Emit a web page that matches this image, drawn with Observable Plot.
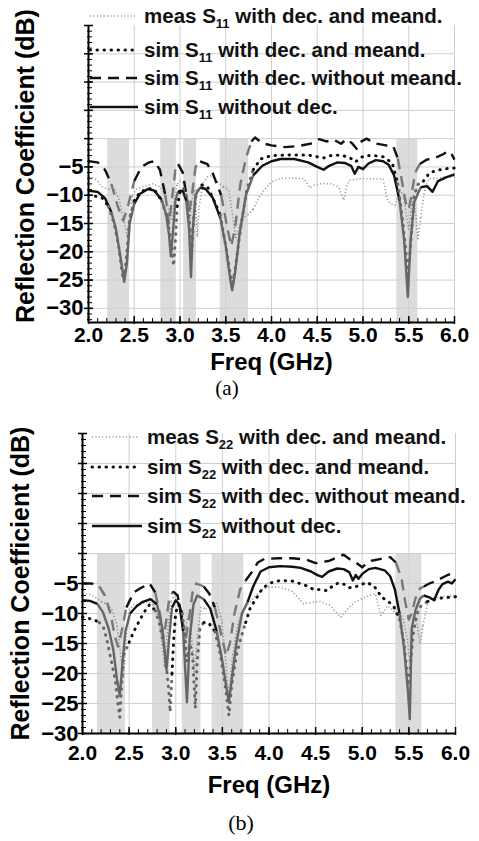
<!DOCTYPE html>
<html><head><meta charset="utf-8">
<script src="https://cdn.jsdelivr.net/npm/d3@7"></script>
<script src="https://cdn.jsdelivr.net/npm/@observablehq/plot@0.6"></script>
<style>
html,body{margin:0;padding:0;background:#fff;}
#root{position:relative;width:479px;height:841px;overflow:hidden;}
#root > svg{position:absolute;left:0;}
</style></head><body><div id="root"></div>
<script>
// ---------- DATA ----------
const xTickLabels = [2.0, 2.5, 3.0, 3.5, 4.0, 4.5, 5.0, 5.5, 6.0];
const yTickLabels = [-30, -25, -20, -15, -10, -5];

const bandsA = [[2.21, 2.45], [2.79, 2.96], [3.04, 3.18], [3.44, 3.75], [5.37, 5.60]];
const bandsB = [[2.16, 2.46], [2.75, 2.94], [3.07, 3.27], [3.39, 3.73], [5.36, 5.64]];

// (a) S11
const a_meas = [[2.00,-6.8],[2.08,-7.2],[2.15,-8.5],[2.22,-9.0],[2.28,-8.8],[2.33,-10.5],[2.38,-14],[2.42,-17],[2.45,-14],[2.48,-10],[2.53,-8.8],[2.60,-8.5],[2.70,-8.0],[2.78,-8.5],[2.84,-10],[2.88,-13],[2.91,-14.5],[2.94,-11],[2.97,-8],[3.00,-7.5],[3.05,-8],[3.08,-11],[3.11,-15],[3.13,-11],[3.16,-9],[3.18,-14],[3.19,-17.4],[3.21,-12],[3.25,-8],[3.30,-6.8],[3.35,-6.5],[3.40,-7.5],[3.47,-8.5],[3.53,-9],[3.57,-13],[3.61,-17.5],[3.64,-16],[3.68,-14],[3.74,-13.5],[3.80,-12.5],[3.86,-10.5],[3.92,-9],[4.00,-7.7],[4.10,-7.0],[4.25,-7.0],[4.36,-7.1],[4.42,-8.7],[4.47,-8.2],[4.56,-7.9],[4.65,-8.0],[4.73,-8.5],[4.79,-10.9],[4.82,-8.5],[4.85,-7.4],[4.95,-7.1],[5.10,-7.1],[5.22,-7.1],[5.26,-10.5],[5.30,-11.5],[5.35,-11.8],[5.40,-9],[5.44,-10],[5.47,-13],[5.50,-16],[5.52,-13],[5.55,-10],[5.58,-14],[5.60,-17.7],[5.63,-14],[5.67,-9.5],[5.72,-7.1],[5.80,-7.0],[5.90,-6.8],[6.00,-6.7]];
const a_decMeand = [[2.00,-10.0],[2.08,-10.2],[2.15,-10.5],[2.22,-12],[2.28,-15],[2.33,-19],[2.37,-24],[2.39,-25],[2.42,-20],[2.45,-14],[2.50,-11],[2.56,-9.5],[2.65,-8.8],[2.72,-9.0],[2.80,-11],[2.86,-14],[2.90,-18],[2.93,-22.5],[2.95,-18],[2.97,-12],[3.00,-9.5],[3.04,-8.8],[3.08,-10.5],[3.11,-16],[3.13,-20],[3.15,-14],[3.18,-9.5],[3.24,-8.2],[3.30,-8.5],[3.36,-10.5],[3.44,-13.5],[3.50,-19],[3.55,-24],[3.58,-25.5],[3.62,-21],[3.67,-15],[3.73,-9],[3.80,-5.5],[3.88,-3.6],[4.00,-3.0],[4.20,-2.9],[4.40,-2.9],[4.50,-3.2],[4.57,-3.4],[4.65,-3.0],[4.75,-2.9],[4.85,-3.3],[4.92,-4.1],[4.97,-3.4],[5.02,-3.0],[5.12,-3.0],[5.22,-3.2],[5.32,-4.3],[5.38,-8],[5.43,-14],[5.47,-20],[5.49,-24],[5.52,-19],[5.56,-10],[5.60,-8.1],[5.66,-7.5],[5.73,-6.0],[5.84,-5.5],[5.92,-5.3],[6.00,-5.2]];
const a_noMeand = [[2.00,-4.0],[2.10,-4.2],[2.18,-5.5],[2.25,-8],[2.32,-12],[2.38,-14.5],[2.43,-12],[2.50,-7.5],[2.58,-5],[2.66,-4.2],[2.72,-4.0],[2.78,-5.5],[2.84,-10],[2.88,-15],[2.91,-11],[2.95,-5.5],[2.98,-4.5],[3.03,-6],[3.07,-10],[3.10,-13],[3.13,-10],[3.17,-5],[3.22,-4.0],[3.30,-4.5],[3.36,-6.2],[3.45,-10],[3.52,-16],[3.56,-19],[3.60,-16],[3.66,-8],[3.72,-3.5],[3.78,-0.5],[3.82,0.2],[3.90,-0.8],[4.00,-1.2],[4.15,-1.5],[4.30,-1.3],[4.45,-0.8],[4.52,-0.1],[4.60,-0.5],[4.68,-0.2],[4.76,-0.9],[4.82,-0.1],[4.88,-0.8],[4.93,-1.8],[4.97,-0.6],[5.04,0.0],[5.12,-0.8],[5.25,-1.2],[5.33,-1.3],[5.38,-3.5],[5.42,-7],[5.47,-11.5],[5.50,-12.5],[5.53,-10],[5.57,-6],[5.62,-4.5],[5.70,-3.7],[5.80,-3.3],[5.87,-2.8],[5.93,-2.2],[5.97,-2.8],[6.00,-3.7]];
const a_noDec = [[2.00,-9.2],[2.10,-9.4],[2.18,-10.5],[2.25,-13],[2.30,-16],[2.35,-21],[2.39,-25.3],[2.42,-22],[2.45,-15],[2.50,-11.5],[2.56,-9.8],[2.65,-8.9],[2.72,-9.2],[2.80,-10.8],[2.85,-13.5],[2.88,-17],[2.90,-20.8],[2.92,-17],[2.95,-11],[2.98,-9.3],[3.03,-9.2],[3.07,-11],[3.10,-16],[3.12,-24.5],[3.14,-16],[3.17,-10],[3.22,-8.6],[3.28,-8.9],[3.36,-10.5],[3.44,-14],[3.50,-19],[3.55,-25],[3.57,-26.8],[3.60,-24],[3.65,-17],[3.72,-10],[3.80,-6.5],[3.90,-4.8],[4.00,-4.0],[4.10,-3.6],[4.25,-3.6],[4.40,-4.2],[4.50,-5.0],[4.57,-5.5],[4.63,-4.8],[4.72,-4.2],[4.80,-4.3],[4.87,-4.8],[4.91,-6.2],[4.95,-5.0],[5.00,-5.4],[5.06,-4.4],[5.14,-3.8],[5.22,-4.0],[5.28,-4.6],[5.34,-6.5],[5.40,-11],[5.45,-18],[5.49,-28],[5.52,-18],[5.56,-11.2],[5.63,-8.6],[5.70,-8.4],[5.76,-9.4],[5.82,-7.5],[5.90,-6.9],[6.00,-6.3]];

// (b) S22
const b_meas = [[2.00,-6.7],[2.06,-6.7],[2.13,-7.2],[2.20,-8],[2.27,-8.5],[2.32,-9.5],[2.37,-12],[2.41,-17],[2.44,-20.6],[2.47,-14],[2.50,-9.5],[2.55,-8.5],[2.62,-8.5],[2.70,-8],[2.76,-8.5],[2.82,-11],[2.86,-16],[2.88,-19],[2.91,-13],[2.95,-8],[2.98,-7.1],[3.02,-8],[3.06,-11],[3.09,-15],[3.12,-11],[3.15,-10],[3.18,-16],[3.20,-20],[3.23,-14],[3.27,-9],[3.32,-9.2],[3.38,-8.8],[3.44,-8.2],[3.49,-11],[3.53,-17],[3.57,-23.8],[3.61,-17],[3.66,-12],[3.72,-9.5],[3.77,-8.5],[3.85,-7.2],[3.93,-6.0],[4.00,-5.6],[4.10,-5.6],[4.24,-6.2],[4.31,-7.3],[4.37,-8.4],[4.45,-8.2],[4.55,-8.0],[4.65,-8.6],[4.72,-9.8],[4.77,-10.6],[4.83,-9.5],[4.92,-8.1],[5.00,-7.5],[5.08,-7.0],[5.14,-6.7],[5.17,-8.5],[5.20,-10.3],[5.24,-9.5],[5.27,-8.7],[5.32,-9.3],[5.36,-10],[5.40,-9.5],[5.44,-11],[5.48,-14],[5.51,-18],[5.53,-14],[5.56,-10],[5.59,-12],[5.62,-15],[5.65,-12],[5.70,-8.5],[5.73,-7.6],[5.82,-7.3],[5.90,-7.1],[6.00,-7.0]];
const b_decMeand = [[2.00,-10.6],[2.06,-10.8],[2.12,-11.0],[2.18,-11.5],[2.23,-12.5],[2.27,-15],[2.31,-18],[2.35,-21],[2.38,-25],[2.40,-27.3],[2.42,-22],[2.44,-17],[2.50,-14.8],[2.55,-13],[2.60,-11.5],[2.66,-9.8],[2.72,-8.5],[2.78,-9.5],[2.83,-12],[2.88,-16],[2.92,-22],[2.94,-26.4],[2.96,-20],[2.98,-14],[3.00,-9.8],[3.03,-8.5],[3.07,-10],[3.10,-14],[3.12,-18],[3.15,-15],[3.18,-17],[3.21,-25.8],[3.23,-18],[3.26,-12.5],[3.30,-11.5],[3.35,-11.5],[3.42,-13],[3.48,-17],[3.53,-22],[3.57,-27],[3.60,-22],[3.65,-17],[3.70,-14],[3.75,-11.5],[3.80,-9],[3.86,-7.6],[3.93,-5.8],[4.02,-4.9],[4.12,-4.5],[4.25,-4.6],[4.39,-5.3],[4.48,-6.0],[4.55,-6.0],[4.62,-6.2],[4.70,-5.2],[4.75,-4.9],[4.82,-5.2],[4.86,-5.7],[4.92,-5.6],[4.97,-5.3],[5.05,-4.8],[5.13,-5.5],[5.21,-7.3],[5.28,-8],[5.34,-8.9],[5.40,-11],[5.45,-15],[5.48,-20],[5.50,-22],[5.52,-18],[5.55,-13],[5.59,-10],[5.62,-8.9],[5.70,-8.0],[5.78,-7.6],[5.86,-7.4],[6.00,-7.2]];
const b_noMeand = [[2.00,-5.0],[2.10,-5.0],[2.18,-5.5],[2.24,-7],[2.30,-10],[2.35,-14],[2.38,-15.5],[2.42,-13],[2.47,-9],[2.55,-6.5],[2.62,-5.8],[2.72,-5.0],[2.78,-6.5],[2.83,-10],[2.87,-14],[2.90,-11],[2.93,-7.5],[2.97,-6.3],[3.02,-7],[3.07,-11],[3.11,-14],[3.15,-10],[3.18,-6.5],[3.22,-5.0],[3.30,-5.5],[3.36,-6.7],[3.42,-9],[3.48,-13],[3.54,-17],[3.58,-15],[3.63,-10],[3.69,-6],[3.75,-4.5],[3.82,-3.0],[3.88,-1.5],[3.95,-0.9],[4.10,-0.8],[4.25,-0.8],[4.40,-1.0],[4.50,-1.6],[4.58,-1.4],[4.65,-1.2],[4.72,-0.7],[4.80,-0.2],[4.87,-1.0],[4.93,-1.5],[5.00,-2.3],[5.05,-1.6],[5.10,-1.2],[5.20,-0.9],[5.30,-0.6],[5.36,-1.5],[5.42,-4],[5.46,-8],[5.50,-11],[5.53,-10],[5.57,-7.5],[5.62,-5.8],[5.66,-5.5],[5.72,-5.0],[5.80,-4.5],[5.90,-3.7],[6.00,-3.1]];
const b_noDec = [[2.00,-7.8],[2.08,-7.9],[2.16,-8.4],[2.22,-9.8],[2.28,-12.5],[2.33,-16],[2.37,-21],[2.40,-23.7],[2.43,-18],[2.46,-13],[2.51,-10],[2.58,-8.8],[2.64,-8.1],[2.73,-7.6],[2.80,-8.5],[2.85,-12],[2.88,-16],[2.90,-19.5],[2.93,-14],[2.96,-9],[3.00,-7.8],[3.04,-8.5],[3.08,-13],[3.12,-24.8],[3.15,-14],[3.19,-8.5],[3.23,-7.0],[3.30,-7.6],[3.37,-9.2],[3.44,-13],[3.50,-18],[3.55,-23],[3.57,-24.8],[3.60,-21],[3.65,-15],[3.71,-10],[3.77,-8.1],[3.83,-5.5],[3.91,-3.0],[4.00,-2.3],[4.12,-2.1],[4.25,-2.2],[4.34,-2.4],[4.45,-3.0],[4.52,-3.6],[4.57,-3.9],[4.64,-3.0],[4.73,-2.5],[4.80,-2.6],[4.86,-3.1],[4.90,-4.5],[4.93,-3.6],[4.96,-4.2],[5.00,-3.4],[5.07,-2.6],[5.14,-2.4],[5.24,-2.8],[5.30,-3.8],[5.35,-6],[5.40,-10],[5.45,-16],[5.49,-23],[5.51,-27.6],[5.53,-12.5],[5.57,-9.5],[5.62,-7.5],[5.66,-7.0],[5.72,-7.3],[5.77,-7.8],[5.82,-6.0],[5.86,-5.1],[5.92,-4.7],[5.96,-5.0],[6.00,-4.3]];

const legendKeys = ["meas", "decMeand", "noMeand", "noDec"];
const legendA = [["meas S","11"," with dec. and meand."],["sim S","11"," with dec. and meand."],["sim S","11"," with dec. without meand."],["sim S","11"," without dec."]];
const legendB = [["meas S","22"," with dec. and meand."],["sim S","22"," with dec. and meand."],["sim S","22"," with dec. without meand."],["sim S","22"," without dec."]];
const captions = ["(a)", "(b)"];
const xTitle = "Freq (GHz)";
const yTitle = "Reflection Coefficient (dB)";

// ---------- STYLES ----------
const seriesStyles = {
  meas: {base: "#9d9d9d", dip: "#8f8f8f", strokeWidth: 1.6, strokeDasharray: "1.2,2.2", strokeLinecap: "butt"},
  noMeand: {base: "#111", dip: "#777", strokeWidth: 2.4, strokeDasharray: "11,7", strokeLinecap: "butt"},
  noDec: {base: "#111", dip: "#666", strokeWidth: 2.4, strokeDasharray: null, strokeLinecap: "butt"},
  decMeand: {base: "#111", dip: "#666", strokeWidth: 3, strokeDasharray: "0.5,6.5", strokeLinecap: "round"}
};
const drawOrder = ["meas", "noMeand", "noDec", "decMeand"];

function panel(cfg) {
  const inBand = f => cfg.bands.some(([lo, hi]) => f >= lo && f <= hi);
  const plotW = cfg.width - cfg.ml - cfg.mr;
  const plotH = cfg.height - cfg.mt - cfg.mb;
  const yMinor = d3.range(Math.ceil(cfg.yDomain[0]), cfg.yDomain[1] + 1, 1);
  const yMajor = d3.range(-30, cfg.yDomain[1] + 1, 5);
  const xMinor = d3.range(20, 61, 1).map(d => d / 10);
  const yGrid = d3.range(-30, 16, 5);
  const lineMarks = drawOrder.map(key => {
    const s = seriesStyles[key];
    const data = cfg.series[key].map(([f, v]) => ({f, v, c: inBand(f) ? s.dip : s.base}));
    return Plot.line(data, {x: "f", y: "v", z: null, stroke: "c", strokeWidth: s.strokeWidth,
      strokeDasharray: s.strokeDasharray, strokeLinecap: s.strokeLinecap, strokeLinejoin: "round"});
  });
  return Plot.plot({
    width: cfg.width, height: cfg.height,
    marginLeft: cfg.ml, marginRight: cfg.mr, marginTop: cfg.mt, marginBottom: cfg.mb,
    style: {fontFamily: "'Liberation Sans', Arial, sans-serif", fontWeight: "bold", background: "transparent", overflow: "visible"},
    x: {domain: [2, 6], label: null},
    y: {domain: cfg.yDomain, label: null},
    color: {type: "identity"},
    marks: [
      Plot.rect(cfg.bands, {x1: d => d[0], x2: d => d[1], y1: cfg.yDomain[0], y2: 0, fill: "#dcdcdc"}),
      Plot.ruleX(xTickLabels.slice(1), {stroke: "#cfcfcf", strokeWidth: 1}),
      Plot.ruleY(yGrid, {stroke: "#cfcfcf", strokeWidth: 1}),
      ...lineMarks,
      Plot.tickY(yMinor, {stroke: "#000", strokeWidth: 1, insetRight: plotW - 4, insetLeft: -1}),
      Plot.tickY(yMajor, {stroke: "#000", strokeWidth: 1.5, insetRight: plotW - 5, insetLeft: -4}),
      Plot.tickX(xMinor, {stroke: "#000", strokeWidth: 1, insetTop: plotH - 4}),
      Plot.tickX(xTickLabels, {stroke: "#000", strokeWidth: 1.5, insetTop: plotH - 6, insetBottom: -2}),
      Plot.ruleX([2], {stroke: "#000", strokeWidth: 2}),
      Plot.ruleY([cfg.yDomain[0]], {stroke: "#000", strokeWidth: 2}),
      Plot.axisX(xTickLabels, {tickSize: 0, tickPadding: cfg.xTickPad, tickFormat: d => d.toFixed(1), fontSize: 21, label: null}),
      Plot.axisY(yTickLabels, {tickSize: 0, tickPadding: cfg.yTickPad, fontSize: 22, label: null}),
      Plot.text([xTitle], {text: d => d, frameAnchor: "bottom", textAnchor: "middle", lineAnchor: "middle", dy: cfg.xTitleDy, fontSize: 24}),
      Plot.text([yTitle], {text: d => d, frameAnchor: "left", textAnchor: "middle", lineAnchor: "middle", rotate: -90, dx: cfg.yTitleDx, dy: cfg.yTitleDy, fontSize: 25})
    ]
  });
}

const root = document.getElementById("root");

const svgA = panel({
  width: 479, height: 372, ml: 88, mr: 25, mt: 25, mb: 50,
  yDomain: [-32.5, 20], bands: bandsA,
  series: {meas: a_meas, decMeand: a_decMeand, noMeand: a_noMeand, noDec: a_noDec},
  xTickPad: 5, yTickPad: 5, xTitleDy: 40, yTitleDx: -63, yTitleDy: -8
});
svgA.style.top = "0px";
root.appendChild(svgA);

const svgB = panel({
  width: 479, height: 400, ml: 82, mr: 24, mt: 33, mb: 67,
  yDomain: [-30, 20], bands: bandsB,
  series: {meas: b_meas, decMeand: b_decMeand, noMeand: b_noMeand, noDec: b_noDec},
  xTickPad: 12, yTickPad: 4, xTitleDy: 52, yTitleDx: -62, yTitleDy: 0
});
svgB.style.top = "400px";
root.appendChild(svgB);

// ---------- LEGENDS & CAPTIONS (overlay) ----------
const ov = d3.select(root).append("svg")
  .attr("width", 479).attr("height", 841)
  .style("top", "0px").style("pointer-events", "none")
  .style("font-family", "'Liberation Sans', Arial, sans-serif");

function legend(rows, layout) {
  rows.forEach((parts, i) => {
    const s = seriesStyles[legendKeys[i]];
    const yb = layout.baselines[i];
    const ly = yb - 7;
    ov.append("line")
      .attr("x1", layout.x1).attr("x2", layout.x2[i]).attr("y1", ly).attr("y2", ly)
      .attr("stroke", s.base).attr("stroke-width", s.strokeWidth)
      .attr("stroke-dasharray", s.strokeDasharray).attr("stroke-linecap", s.strokeLinecap);
    const t = ov.append("text").attr("x", layout.tx).attr("y", yb)
      .attr("font-size", 20.5).attr("font-weight", "bold").attr("fill", "#111");
    t.append("tspan").text(parts[0]);
    t.append("tspan").attr("font-size", 13).attr("dy", 5).text(parts[1]);
    t.append("tspan").attr("dy", -5).text(parts[2]);
  });
}
legend(legendA, {x1: 90, x2: [137, 134, 142, 138], tx: 144, baselines: [23, 57, 85, 114]});
legend(legendB, {x1: 92, x2: [138, 138, 145, 142], tx: 147, baselines: [444, 474, 503, 533]});

ov.append("text").attr("x", 227).attr("y", 395).attr("text-anchor", "middle")
  .attr("font-family", "'Liberation Serif', 'Times New Roman', serif").attr("font-size", 21).text(captions[0]);
ov.append("text").attr("x", 241).attr("y", 830).attr("text-anchor", "middle")
  .attr("font-family", "'Liberation Serif', 'Times New Roman', serif").attr("font-size", 22).text(captions[1]);
</script></body></html>
